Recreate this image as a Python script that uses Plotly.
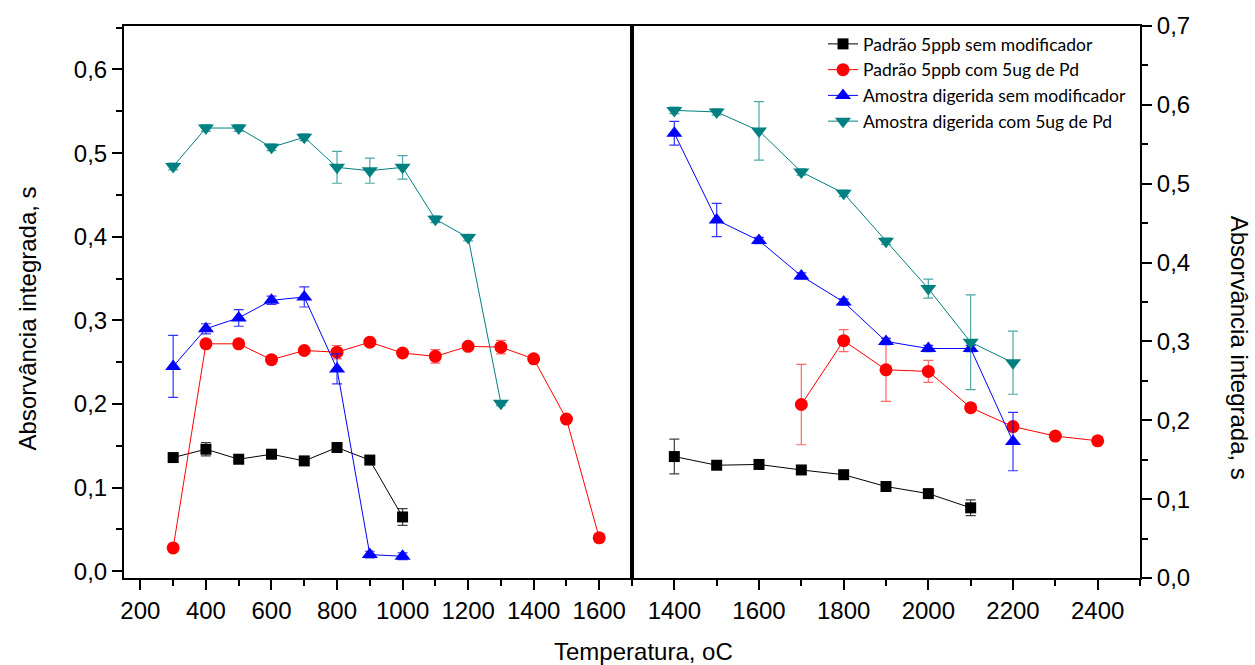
import plotly.graph_objects as go

# ---------------- data (left panel) ----------------
L_T_black = [300, 400, 500, 600, 700, 800, 900, 1000]
L_black = [0.136, 0.146, 0.134, 0.140, 0.132, 0.148, 0.133, 0.065]
L_black_err = [0.003, 0.008, 0.003, 0.003, 0.003, 0.003, 0.003, 0.010]

L_T_red = [300, 400, 500, 600, 700, 800, 900, 1000, 1100, 1200, 1300, 1400, 1500, 1600]
L_red = [0.028, 0.272, 0.272, 0.253, 0.264, 0.262, 0.274, 0.261, 0.257, 0.269, 0.268, 0.254, 0.182, 0.040]
L_red_err = [0.003, 0.004, 0.004, 0.003, 0.003, 0.008, 0.003, 0.004, 0.008, 0.003, 0.008, 0.003, 0.003, 0.005]

L_T_blue = [300, 400, 500, 600, 700, 800, 900, 1000]
L_blue = [0.245, 0.290, 0.303, 0.324, 0.328, 0.242, 0.020, 0.018]
L_blue_err = [0.037, 0.006, 0.010, 0.005, 0.012, 0.018, 0.004, 0.004]

L_T_teal = [300, 400, 500, 600, 700, 800, 900, 1000, 1100, 1200, 1300]
L_teal = [0.484, 0.530, 0.530, 0.507, 0.519, 0.483, 0.479, 0.483, 0.421, 0.399, 0.201]
L_teal_err = [0.004, 0.004, 0.004, 0.004, 0.004, 0.019, 0.015, 0.014, 0.004, 0.004, 0.003]

# ---------------- data (right panel) ----------------
R_T_black = [1400, 1500, 1600, 1700, 1800, 1900, 2000, 2100]
R_black = [0.154, 0.143, 0.144, 0.137, 0.131, 0.116, 0.107, 0.089]
R_black_err = [0.022, 0.003, 0.003, 0.003, 0.003, 0.003, 0.003, 0.010]

R_T_red = [1700, 1800, 1900, 2000, 2100, 2200, 2300, 2400]
R_red = [0.220, 0.301, 0.264, 0.262, 0.216, 0.192, 0.180, 0.174]
R_red_err = [0.051, 0.014, 0.040, 0.014, 0.003, 0.003, 0.003, 0.003]

R_T_blue = [1400, 1500, 1600, 1700, 1800, 1900, 2000, 2100, 2200]
R_blue = [0.564, 0.454, 0.428, 0.383, 0.350, 0.300, 0.291, 0.291, 0.173]
R_blue_err = [0.015, 0.021, 0.004, 0.004, 0.004, 0.004, 0.004, 0.004, 0.037]

R_T_teal = [1400, 1500, 1600, 1700, 1800, 1900, 2000, 2100, 2200]
R_teal = [0.593, 0.591, 0.567, 0.515, 0.488, 0.427, 0.367, 0.299, 0.273]
R_teal_err = [0.004, 0.004, 0.037, 0.004, 0.004, 0.004, 0.012, 0.060, 0.040]

series_names = [
    "Padrão 5ppb sem modificador",
    "Padrão 5ppb com 5ug de Pd",
    "Amostra digerida sem modificador",
    "Amostra digerida com 5ug de Pd",
]
x_title = "Temperatura, oC"
y_title = "Absorvância integrada, s"

styles = [
    dict(color="#000000", err="rgba(0,0,0,0.75)", symbol="square", size=11),
    dict(color="#FF0000", err="rgba(255,0,0,0.6)", symbol="circle", size=13),
    dict(color="#0000FF", err="rgba(0,0,255,0.8)", symbol="triangle-up", size=14),
    dict(color="#008080", err="rgba(0,128,128,0.7)", symbol="triangle-down", size=14),
]

left = [(L_T_black, L_black, L_black_err), (L_T_red, L_red, L_red_err),
        (L_T_blue, L_blue, L_blue_err), (L_T_teal, L_teal, L_teal_err)]
right = [(R_T_black, R_black, R_black_err), (R_T_red, R_red, R_red_err),
         (R_T_blue, R_blue, R_blue_err), (R_T_teal, R_teal, R_teal_err)]

fig = go.Figure()
for i, (name, st) in enumerate(zip(series_names, styles)):
    for panel, (xs, ys, es) in (("L", left[i]), ("R", right[i])):
        fig.add_trace(go.Scatter(
            x=xs, y=ys,
            mode="lines+markers",
            name=name,
            legendgroup=name,
            showlegend=(panel == "L"),
            line=dict(color=st["color"], width=1),
            marker=dict(symbol=st["symbol"], size=st["size"], color=st["color"],
                        line=dict(width=0)),
            error_y=dict(type="data", array=es, visible=True, color=st["err"],
                         thickness=1.2, width=5),
            xaxis="x" if panel == "L" else "x2",
            yaxis="y" if panel == "L" else "y2",
        ))

tickfont = dict(family="Liberation Sans, Arial, sans-serif", size=24, color="black")
axis_common = dict(
    showgrid=False, zeroline=False, showline=True, linecolor="black", linewidth=2,
    ticks="outside", ticklen=10, tickwidth=1.5, tickcolor="black", tickfont=tickfont,
    mirror=True,
)

fig.update_layout(
    width=1255, height=665,
    margin=dict(l=124, r=115, t=18, b=87),
    paper_bgcolor="white", plot_bgcolor="white",
    separators=",.",
    xaxis=dict(domain=[0, 0.5], range=[150, 1700], anchor="y",
               tick0=0, dtick=200, tickformat="d",
               minor=dict(dtick=100, tick0=0, ticks="outside", ticklen=6,
                          tickcolor="black", tickwidth=1.5),
               **axis_common),
    yaxis=dict(domain=[0, 1], range=[-0.008, 0.652], anchor="x",
               tick0=0, dtick=0.1, tickformat=".1f",
               minor=dict(dtick=0.05, tick0=0, ticks="outside", ticklen=6,
                          tickcolor="black", tickwidth=1.5),
               **axis_common),
    xaxis2=dict(domain=[0.5, 1], range=[1300, 2500], anchor="y2",
                tick0=0, dtick=200, tickformat="d",
                minor=dict(dtick=100, tick0=0, ticks="outside", ticklen=6,
                           tickcolor="black", tickwidth=1.5),
                **axis_common),
    yaxis2=dict(domain=[0, 1], range=[0, 0.7], anchor="x2", side="right",
                tick0=0, dtick=0.1, tickformat=".1f",
                minor=dict(dtick=0.05, tick0=0, ticks="outside", ticklen=6,
                           tickcolor="black", tickwidth=1.5),
                **axis_common),
    legend=dict(x=0.688, y=1.0, xanchor="left", yanchor="top",
                bgcolor="rgba(0,0,0,0)", borderwidth=0,
                font=dict(family="Lato, Carlito, sans-serif", size=17.5, color="black"),
                traceorder="normal", itemwidth=30),
    showlegend=True,
    annotations=[
        dict(text=x_title, xref="paper", yref="paper", x=0.511, y=-0.133,
             xanchor="center", yanchor="middle", showarrow=False,
             font=dict(family="Liberation Sans, Arial, sans-serif", size=24, color="black")),
        dict(text=y_title, xref="paper", yref="paper", x=-0.0945, y=0.47,
             xanchor="center", yanchor="middle", showarrow=False, textangle=-90,
             font=dict(family="Liberation Sans, Arial, sans-serif", size=24, color="black")),
        dict(text=y_title, xref="paper", yref="paper", x=1.098, y=0.418,
             xanchor="center", yanchor="middle", showarrow=False, textangle=90,
             font=dict(family="Liberation Sans, Arial, sans-serif", size=24, color="black")),
    ],
)

fig.write_html("out.html", config={"displayModeBar": False},
               post_script="document.body.style.margin='0';")
